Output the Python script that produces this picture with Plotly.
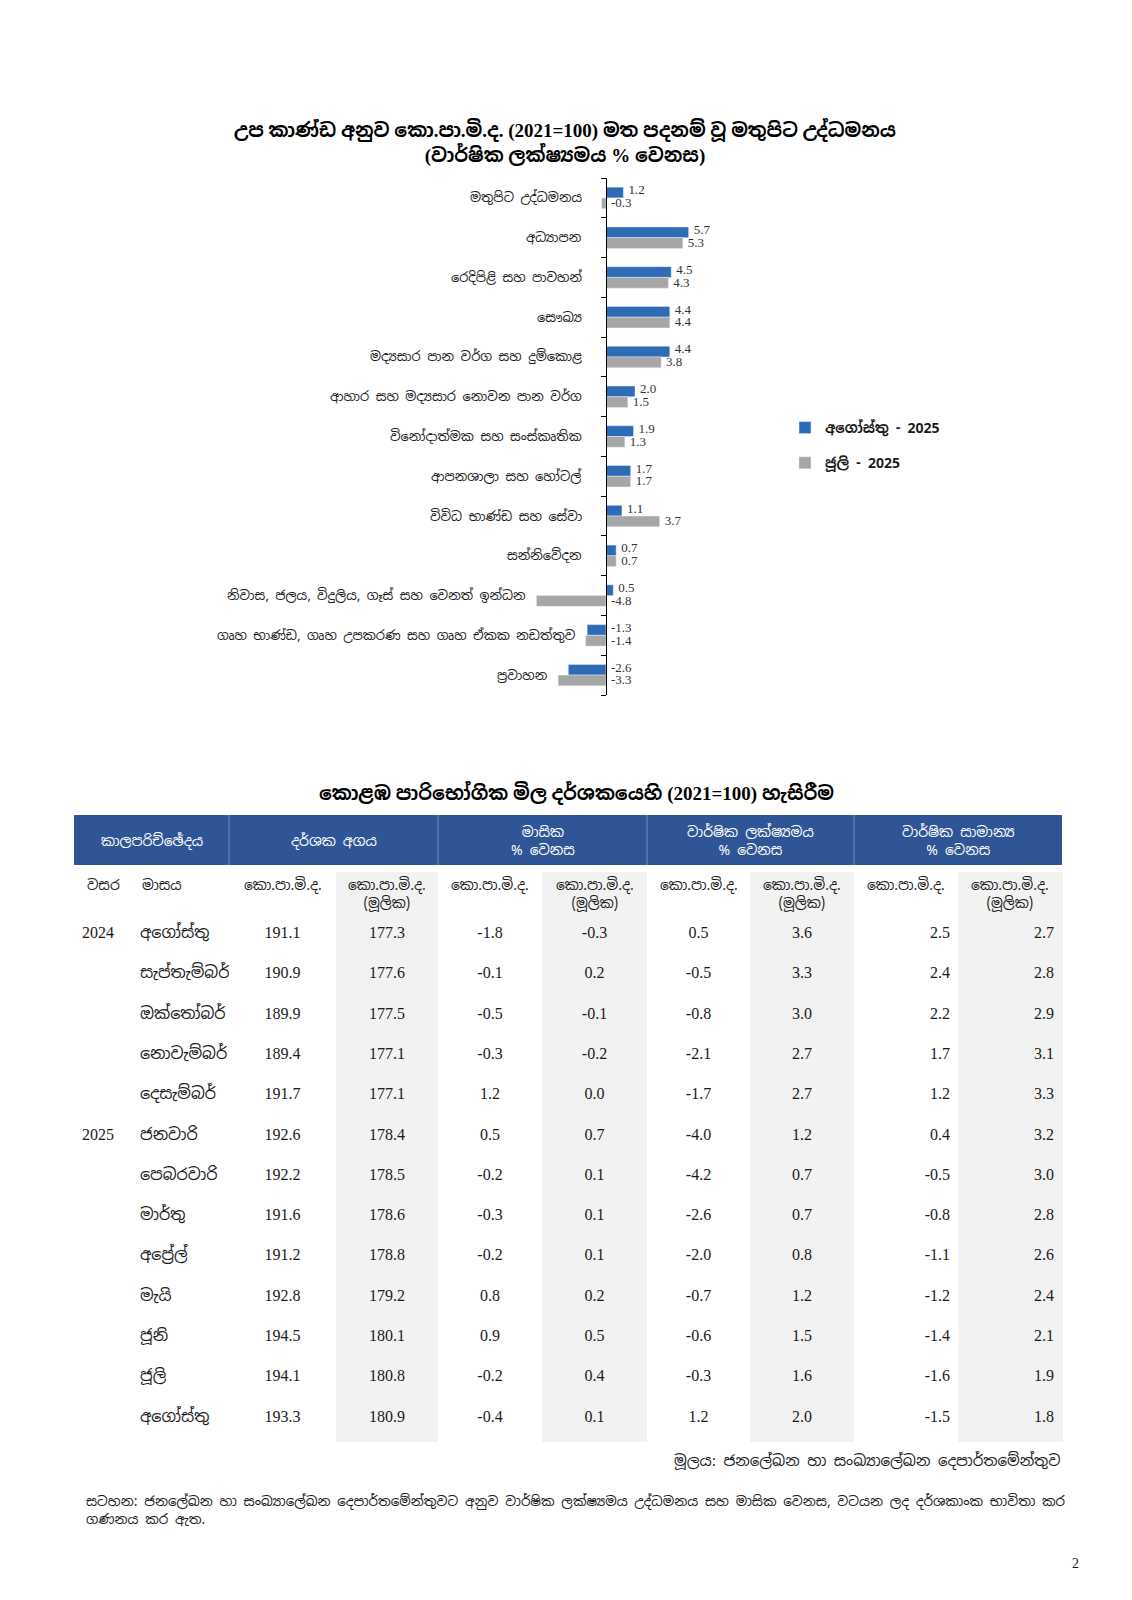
import plotly.graph_objects as go

W, H = 1132, 1600

# ---------------- data ----------------
chart_title = ("උප කාණ්ඩ අනුව කො.පා.මි.ද. (2021=100) මත පදනම් වූ මතුපිට උද්ධමනය"
               "<br>(වාර්ෂික ලක්ෂ්\u200dයමය % වෙනස)")
categories = [
    "මතුපිට උද්ධමනය",
    "අධ්\u200dයාපන",
    "රෙදිපිළි සහ පාවහන්",
    "සෞඛ්\u200dය",
    "මද්\u200dයසාර පාන වර්ග සහ දුම්කොළ",
    "ආහාර සහ මද්\u200dයසාර නොවන පාන වර්ග",
    "විනෝදාත්මක සහ සංස්කෘතික",
    "ආපනශාලා සහ හෝටල්",
    "විවිධ භාණ්ඩ සහ සේවා",
    "සන්නිවේදන",
    "නිවාස, ජලය, විදුලිය, ගෑස් සහ වෙනත් ඉන්ධන",
    "ගෘහ භාණ්ඩ, ගෘහ උපකරණ සහ ගෘහ ඒකක නඩත්තුව",
    "ප්\u200dරවාහන",
]
aug_2025 = [1.2, 5.7, 4.5, 4.4, 4.4, 2.0, 1.9, 1.7, 1.1, 0.7, 0.5, -1.3, -2.6]
jul_2025 = [-0.3, 5.3, 4.3, 4.4, 3.8, 1.5, 1.3, 1.7, 3.7, 0.7, -4.8, -1.4, -3.3]
series_names = ["අගෝස්තු - 2025", "ජූලි - 2025"]

table_title = "කොළඹ පාරිභෝගික මිල දර්ශකයෙහි (2021=100) හැසිරීම"
group_headers = ["කාලපරිච්ඡේදය", "දර්ශක අගය", "මාසික<br>% වෙනස",
                 "වාර්ෂික ලක්ෂ්\u200dයමය<br>% වෙනස", "වාර්ෂික සාමාන්\u200dය<br>% වෙනස"]
ccpi_lbl = "කො.පා.මි.ද."
core_lbl = "කො.පා.මි.ද.<br>(මූලික)"
sub_headers = ["වසර", "මාසය"] + [ccpi_lbl, core_lbl] * 4
years = ["2024", "", "", "", "", "2025", "", "", "", "", "", "", ""]
months = ["අගෝස්තු", "සැප්තැම්බර්", "ඔක්තෝබර්", "නොවැම්බර්", "දෙසැම්බර්", "ජනවාරි",
          "පෙබරවාරි", "මාර්තු", "අප්\u200dරේල්", "මැයි", "ජූනි", "ජූලි", "අගෝස්තු"]
ccpi_index = [191.1, 190.9, 189.9, 189.4, 191.7, 192.6, 192.2, 191.6, 191.2, 192.8, 194.5, 194.1, 193.3]
core_index = [177.3, 177.6, 177.5, 177.1, 177.1, 178.4, 178.5, 178.6, 178.8, 179.2, 180.1, 180.8, 180.9]
ccpi_mom = [-1.8, -0.1, -0.5, -0.3, 1.2, 0.5, -0.2, -0.3, -0.2, 0.8, 0.9, -0.2, -0.4]
core_mom = [-0.3, 0.2, -0.1, -0.2, 0.0, 0.7, 0.1, 0.1, 0.1, 0.2, 0.5, 0.4, 0.1]
ccpi_yoy = [0.5, -0.5, -0.8, -2.1, -1.7, -4.0, -4.2, -2.6, -2.0, -0.7, -0.6, -0.3, 1.2]
core_yoy = [3.6, 3.3, 3.0, 2.7, 2.7, 1.2, 0.7, 0.7, 0.8, 1.2, 1.5, 1.6, 2.0]
ccpi_avg = [2.5, 2.4, 2.2, 1.7, 1.2, 0.4, -0.5, -0.8, -1.1, -1.2, -1.4, -1.6, -1.5]
core_avg = [2.7, 2.8, 2.9, 3.1, 3.3, 3.2, 3.0, 2.8, 2.6, 2.4, 2.1, 1.9, 1.8]

source_text = "මූලය: ජනලේඛන හා සංඛ්\u200dයාලේඛන දෙපාර්තමේන්තුව"
note_text = ("සටහන: ජනලේඛන හා සංඛ්\u200dයාලේඛන දෙපාර්තමේන්තුවට අනුව වාර්ෂික ලක්ෂ්\u200dයමය "
             "උද්ධමනය සහ මාසික වෙනස, වටයන ලද දර්ශකාංක භාවිතා කර<br>ගණනය කර ඇත.")
page_no = "2"

# ---------------- style ----------------
BLUE = "#2E6BB6"
GREY = "#A6A6A6"
HEAD_BLUE = "#2F5597"
CELL_GREY = "#F2F2F2"
SIN = "Noto Sans Sinhala, Iskoola Pota, Noto Sans, sans-serif"
SERIF = "Liberation Serif, Times New Roman, Noto Sans Sinhala, serif"
TXT = "#1a1a1a"


def X(px):
    return px / W


def Y(py):
    return 1 - py / H


# bar-chart geometry (pixels)
axis_px, scale = 606, 14.5
dom_l, dom_r = 470, 740
top_px, bot_px = 178, 695
xmin = -(axis_px - dom_l) / scale
xmax = (dom_r - axis_px) / scale
lbl_gap = 5 / scale

n = len(categories)
pos = list(range(n))

fig = go.Figure()
fig.add_trace(go.Bar(y=pos, x=aug_2025, orientation="h", name=series_names[0],
                     marker=dict(color=BLUE), legendgroup="a"))
fig.add_trace(go.Bar(y=pos, x=jul_2025, orientation="h", name=series_names[1],
                     marker=dict(color=GREY), legendgroup="b"))

# data labels
fig.add_trace(go.Scatter(y=[p - 0.17 for p in pos], x=[max(v, 0) + lbl_gap for v in aug_2025],
                         mode="text", text=[f"{v:.1f}" for v in aug_2025],
                         textposition="middle right", showlegend=False, cliponaxis=False,
                         textfont=dict(family=SERIF, size=13, color="#333333"), hoverinfo="skip"))
fig.add_trace(go.Scatter(y=[p + 0.15 for p in pos], x=[max(v, 0) + lbl_gap for v in jul_2025],
                         mode="text", text=[f"{v:.1f}" for v in jul_2025],
                         textposition="middle right", showlegend=False, cliponaxis=False,
                         textfont=dict(family=SERIF, size=13, color="#333333"), hoverinfo="skip"))

annotations = []
# category labels
for i, c in enumerate(categories):
    m = min(aug_2025[i], jul_2025[i], 0)
    xl = min(m - 8 / scale, -22 / scale)
    annotations.append(dict(x=xl, y=i, xref="x", yref="y", text=c, showarrow=False,
                            xanchor="right", yanchor="middle",
                            font=dict(family=SIN, size=13, color=TXT)))

# chart title
annotations.append(dict(x=X(565), y=Y(142), xref="paper", yref="paper",
                        text="<b>" + chart_title.replace("<br>", "</b><br><b>") + "</b>",
                        showarrow=False, xanchor="center", yanchor="middle",
                        font=dict(family=SERIF, size=19, color="#000")))

# table title
annotations.append(dict(x=X(576), y=Y(792), xref="paper", yref="paper", text="<b>" + table_title + "</b>",
                        showarrow=False, xanchor="center", yanchor="middle",
                        font=dict(family=SERIF, size=19, color="#000")))

# table geometry
tab_l, tab_r = 74, 1062
col_w = [58, 97, 107, 102, 104, 105, 103, 104, 104, 104]
edges = [tab_l]
for w in col_w:
    edges.append(edges[-1] + w)
group_edges = [edges[0], edges[2], edges[4], edges[6], edges[8], edges[10]]

shapes = [dict(type="rect", xref="paper", yref="paper", x0=X(tab_l), x1=X(tab_r),
               y0=Y(865), y1=Y(815), fillcolor=HEAD_BLUE, line=dict(width=0), layer="below")]
for ge in group_edges[1:-1]:
    shapes.append(dict(type="line", xref="paper", yref="paper", x0=X(ge), x1=X(ge),
                       y0=Y(865), y1=Y(815), line=dict(color="#6E8CC8", width=1)))
for k, g in enumerate(group_headers):
    cx = (group_edges[k] + group_edges[k + 1]) / 2
    annotations.append(dict(x=X(cx), y=Y(841), xref="paper", yref="paper", text=g,
                            showarrow=False, xanchor="center", yanchor="middle",
                            font=dict(family=SIN, size=14, color="white")))

# sub-header labels (centred multi-line)
for k, s in enumerate(sub_headers):
    if k < 2:
        xa, xp = "left", edges[k] + (11 if k == 0 else 8)
    else:
        xa, xp = "center", (edges[k] + edges[k + 1]) / 2
    annotations.append(dict(x=X(xp), y=Y(874), xref="paper", yref="paper", text=s,
                            showarrow=False, xanchor=xa, yanchor="top", align="center",
                            font=dict(family=SIN, size=14, color=TXT)))

fmt = lambda arr: [f"{v:.1f}" for v in arr]
col_values = [years, months, fmt(ccpi_index), fmt(core_index), fmt(ccpi_mom), fmt(core_mom),
              fmt(ccpi_yoy), fmt(core_yoy), fmt(ccpi_avg), fmt(core_avg)]
col_fill = ["white", "white"] + ["white", CELL_GREY] * 4
col_align = ["left", "left", "center", "center", "center", "center", "center", "center", "right", "right"]

fig.add_trace(go.Table(
    domain=dict(x=[X(tab_l), X(tab_r)], y=[Y(1450), Y(872)]),
    columnwidth=col_w,
    header=dict(values=[""] * len(sub_headers), fill=dict(color=col_fill),
                line=dict(color=col_fill, width=1), height=46,
                font=dict(family=SIN, size=14, color=TXT)),
    cells=dict(values=col_values, fill=dict(color=col_fill), line=dict(color=col_fill, width=1),
               align=col_align, height=40.3,
               font=dict(family=SERIF, size=16, color=TXT)),
))

# source, note, page number
annotations.append(dict(x=X(1062), y=Y(1460), xref="paper", yref="paper", text=source_text,
                        showarrow=False, xanchor="right", yanchor="middle",
                        font=dict(family=SIN, size=15, color=TXT)))
annotations.append(dict(x=X(84), y=Y(1510), xref="paper", yref="paper", text=note_text,
                        showarrow=False, xanchor="left", yanchor="middle", align="left",
                        font=dict(family=SIN, size=13.5, color=TXT)))
annotations.append(dict(x=X(1075), y=Y(1563), xref="paper", yref="paper", text=page_no,
                        showarrow=False, xanchor="center", yanchor="middle",
                        font=dict(family=SERIF, size=14, color=TXT)))

fig.update_layout(
    width=W, height=H, margin=dict(l=0, r=0, t=0, b=0),
    paper_bgcolor="white", plot_bgcolor="white",
    barmode="group", bargap=0.46, bargroupgap=0,
    showlegend=True,
    legend=dict(x=X(785), y=Y(412), xanchor="left", yanchor="top",
                font=dict(family=SIN, size=14, color=TXT, weight="bold"), tracegroupgap=14,
                bgcolor="rgba(0,0,0,0)", itemclick=False, itemwidth=30),
    xaxis=dict(domain=[X(dom_l), X(dom_r)], range=[xmin, xmax], visible=False),
    yaxis=dict(domain=[Y(bot_px), Y(top_px)], range=[n - 0.5, -0.5], anchor="free",
               position=X(axis_px), showline=True, linecolor="#000", linewidth=1.2,
               ticks="outside", ticklen=5, tickcolor="#000", tickwidth=1,
               tickvals=[i - 0.5 for i in range(n + 1)], showticklabels=False,
               showgrid=False, zeroline=False),
    annotations=annotations, shapes=shapes,
)

fig.write_html("out.html", config={"displayModeBar": False},
               post_script="document.body.style.margin='0';")
